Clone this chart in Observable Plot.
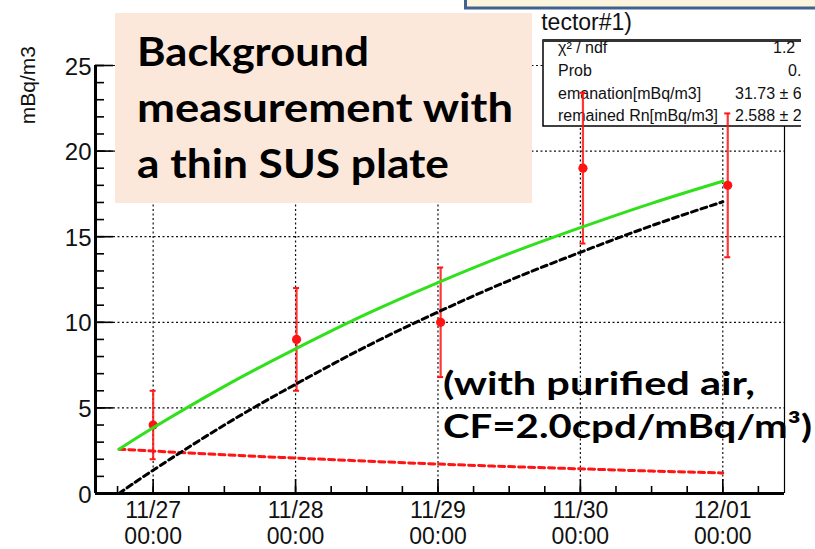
<!DOCTYPE html>
<html>
<head>
<meta charset="utf-8">
<script src="https://cdn.jsdelivr.net/npm/d3@7"></script>
<script src="https://cdn.jsdelivr.net/npm/@observablehq/plot@0.6"></script>
<style>
  html, body { margin: 0; padding: 0; background: #fff; overflow: hidden; }
  #wrap { position: relative; width: 815px; height: 549px; overflow: hidden; }
  #wrap > svg { position: absolute; left: 0; top: 0; }
</style>
</head>
<body>
<div id="wrap"></div>
<script>
// Timestamps in UTC
const t = (mo, d, h = 0, mi = 0) => new Date(Date.UTC(2014, mo - 1, d, h, mi));

// Measured radon concentration with error bars (mBq/m3)
const pointTimes = [t(11, 27, 0, 0), t(11, 28, 0, 10), t(11, 29, 0, 27), t(11, 30, 0, 26), t(12, 1, 0, 50)];
const pointValues = [4.0, 9.0, 10.0, 19.0, 18.0];
const pointErrors = [2.0, 3.0, 3.2, 4.4, 4.2];

// Fitted curves: total, emanation build-up, remaining Rn decay
const curveTimes = [t(11, 26, 18, 15), t(11, 27), t(11, 27, 12), t(11, 28), t(11, 28, 12),
                    t(11, 29), t(11, 29, 12), t(11, 30), t(11, 30, 12), t(12, 1)];
const totalFit     = [2.59, 3.84, 6.26, 8.45, 10.49, 12.32, 14.01, 15.53, 16.95, 18.24];
const emanationFit = [0.00, 1.36, 4.00, 6.38, 8.60, 10.60, 12.44, 14.09, 15.64, 17.04];
const remainedFit  = [2.59, 2.48, 2.26, 2.07, 1.89, 1.72, 1.57, 1.44, 1.31, 1.20];

// Axes
const xDomain = [t(11, 26, 14, 17), t(12, 1, 10, 24)];
const dayTicks = [t(11, 27), t(11, 28), t(11, 29), t(11, 30), t(12, 1)];
const dayLabels = ["11/27\n00:00", "11/28\n00:00", "11/29\n00:00", "11/30\n00:00", "12/01\n00:00"];
const yTicks = [0, 5, 10, 15, 20, 25];
const yLabels = ["0", "5", "10", "15", "20", "25"];
const yGrid = [5, 10, 15, 20, 25];
const yTitle = "mBq/m3";
const plotTitle = "tector#1)";

// Fit statistics panel
const statNames = ["\u03C7\u00B2 / ndf", "Prob", "emanation[mBq/m3]", "remained Rn[mBq/m3]"];
const statValues = ["1.2", "0.", "31.73 \u00B1 6", "2.588 \u00B1 2"];

// Slide annotations
const noteLines = ["Background", "measurement with", "a thin SUS plate"];
const conditionLines = ["(with purified air,", "CF=2.0cpd/mBq/m\u00B3)"];

const points = pointTimes.map((x, i) => ({x, y: pointValues[i], e: pointErrors[i]}));
const curve = curveTimes.map((x, i) => ({x, total: totalFit[i], em: emanationFit[i], rem: remainedFit[i]}));
const minorX = d3.utcHour.every(6).range(xDomain[0], xDomain[1]);
const minorY = d3.range(0, 26);

const RED = "#ff1414";
const GREEN = "#2fe01a";
const ROOTFONT = "'Liberation Sans', Arial, Helvetica, sans-serif";
const left = () => xDomain[0];

function statsPanel() {
  const g = d3.create("svg:g").attr("text-anchor", "start");
  g.append("clipPath").attr("id", "statclip")
    .append("rect").attr("x", 538).attr("y", 34).attr("width", 263).attr("height", 100);
  const b = g.append("g").attr("clip-path", "url(#statclip)");
  b.append("rect").attr("x", 543).attr("y", 40).attr("width", 300).attr("height", 86)
    .attr("fill", "#fff").attr("stroke", "#000").attr("stroke-width", 1.5);
  b.append("line").attr("x1", 543).attr("x2", 850).attr("y1", 40.5).attr("y2", 40.5)
    .attr("stroke", "#333").attr("stroke-width", 3);
  const base = [53, 76, 99, 121];
  const valX = [773, 788, 735, 735];
  statNames.forEach((s, i) => {
    b.append("text").attr("x", 558).attr("y", base[i]).text(s).attr("text-anchor", "start")
      .attr("font-family", ROOTFONT).attr("font-size", 16).attr("fill", "#111");
    b.append("text").attr("x", valX[i]).attr("y", base[i]).text(statValues[i]).attr("text-anchor", "start")
      .attr("font-family", ROOTFONT).attr("font-size", 16).attr("fill", "#111");
  });
  return g.node();
}

const plot = Plot.plot({
  width: 815,
  height: 549,
  marginLeft: 95,
  marginRight: 31,
  marginTop: 65,
  marginBottom: 56,
  x: {type: "utc", domain: xDomain, axis: null},
  y: {domain: [0, 25], axis: null},
  style: {fontFamily: ROOTFONT, background: "transparent", overflow: "visible", color: "#111"},
  marks: [
    // dotted grid
    Plot.ruleX(dayTicks, {stroke: "#111", strokeWidth: 1.2, strokeDasharray: "2,2.5"}),
    Plot.ruleY(yGrid, {stroke: "#111", strokeWidth: 1.2, strokeDasharray: "2,2.5"}),
    // right frame
    Plot.ruleX([xDomain[1]], {stroke: "#000", strokeWidth: 1.2}),
    // x ticks (inward)
    Plot.ruleX(minorX, {y1: () => 0, y2: () => 0, insetTop: -7, stroke: "#000", strokeWidth: 1.6}),
    Plot.ruleX(dayTicks, {y1: () => 0, y2: () => 0, insetTop: -14, stroke: "#000", strokeWidth: 1.6}),
    // y ticks (inward)
    Plot.ruleY(minorY, {x1: left, x2: left, insetRight: -9, stroke: "#000", strokeWidth: 1.6}),
    Plot.ruleY(yTicks, {x1: left, x2: left, insetRight: -18, stroke: "#000", strokeWidth: 1.6}),
    // axis lines
    Plot.ruleY([0], {stroke: "#000", strokeWidth: 3}),
    Plot.ruleX([xDomain[0]], {y1: () => 0, y2: () => 25, stroke: "#000", strokeWidth: 3}),
    // tick labels
    Plot.text(dayTicks, {x: d => d, y: () => 0, text: (d, i) => dayLabels[i], lineAnchor: "top",
      dy: 7, lineHeight: 1.1, fontSize: 23, fill: "#111"}),
    Plot.text(yTicks, {y: d => d, text: (d, i) => yLabels[i], frameAnchor: "left", textAnchor: "end",
      dx: -4, dy: 1.5, fontSize: 24, fill: "#111"}),
    // fit statistics
    statsPanel,
    // measurements
    Plot.ruleX(points, {x: "x", y1: d => d.y - d.e, y2: d => d.y + d.e, stroke: RED, strokeWidth: 2.2, strokeOpacity: 0.85}),
    Plot.ruleY(points, {y: d => d.y - d.e, x1: "x", x2: "x", insetLeft: -3, insetRight: -3, stroke: RED, strokeWidth: 2}),
    Plot.ruleY(points, {y: d => d.y + d.e, x1: "x", x2: "x", insetLeft: -3, insetRight: -3, stroke: RED, strokeWidth: 2}),
    Plot.dot(points, {x: "x", y: "y", r: 4.6, fill: RED, stroke: "none"}),
    // fit components
    Plot.line(curve, {x: "x", y: "rem", stroke: RED, strokeWidth: 3, strokeDasharray: "6,4", curve: "natural"}),
    Plot.line(curve, {x: "x", y: "em", stroke: "#000", strokeWidth: 3, strokeDasharray: "6,4", curve: "natural"}),
    Plot.line(curve, {x: "x", y: "total", stroke: GREEN, strokeWidth: 3, curve: "natural"})
  ]
});

const wrap = document.getElementById("wrap");
wrap.appendChild(plot);

// Overlay: titles, slide boxes and notes
const ov = d3.select(wrap).append("svg").attr("width", 815).attr("height", 549);

ov.append("text").attr("x", 35).attr("y", 46)
  .attr("transform", "rotate(-90 35 46)").attr("text-anchor", "end")
  .attr("font-family", ROOTFONT).attr("font-size", 21).attr("fill", "#111").text(yTitle);

ov.append("text").attr("x", 632).attr("y", 30).attr("text-anchor", "end")
  .attr("font-family", ROOTFONT).attr("font-size", 23).attr("fill", "#111").text(plotTitle);

ov.append("rect").attr("x", 465.5).attr("y", -20).attr("width", 400).attr("height", 28)
  .attr("fill", "#faf5dc").attr("stroke", "#41618f").attr("stroke-width", 3);

ov.append("rect").attr("x", 115).attr("y", 13).attr("width", 417).attr("height", 190)
  .attr("fill", "#fce8db");

const noteBase = [66, 122, 178];
const noteWidth = [232, 376, 312];
noteLines.forEach((s, i) => {
  ov.append("text").attr("x", 137).attr("y", noteBase[i])
    .attr("font-family", "Lato, 'Open Sans', sans-serif").attr("font-weight", 700)
    .attr("font-size", 40).attr("fill", "#000")
    .attr("textLength", noteWidth[i]).attr("lengthAdjust", "spacingAndGlyphs").text(s);
});

const condBase = [395, 438];
const condWidth = [312, 369];
conditionLines.forEach((s, i) => {
  ov.append("text").attr("x", 443).attr("y", condBase[i])
    .attr("font-family", "Lato, 'Open Sans', sans-serif").attr("font-weight", 700)
    .attr("font-size", 33).attr("fill", "#000")
    .attr("textLength", condWidth[i]).attr("lengthAdjust", "spacingAndGlyphs").text(s);
});
</script>
</body>
</html>
